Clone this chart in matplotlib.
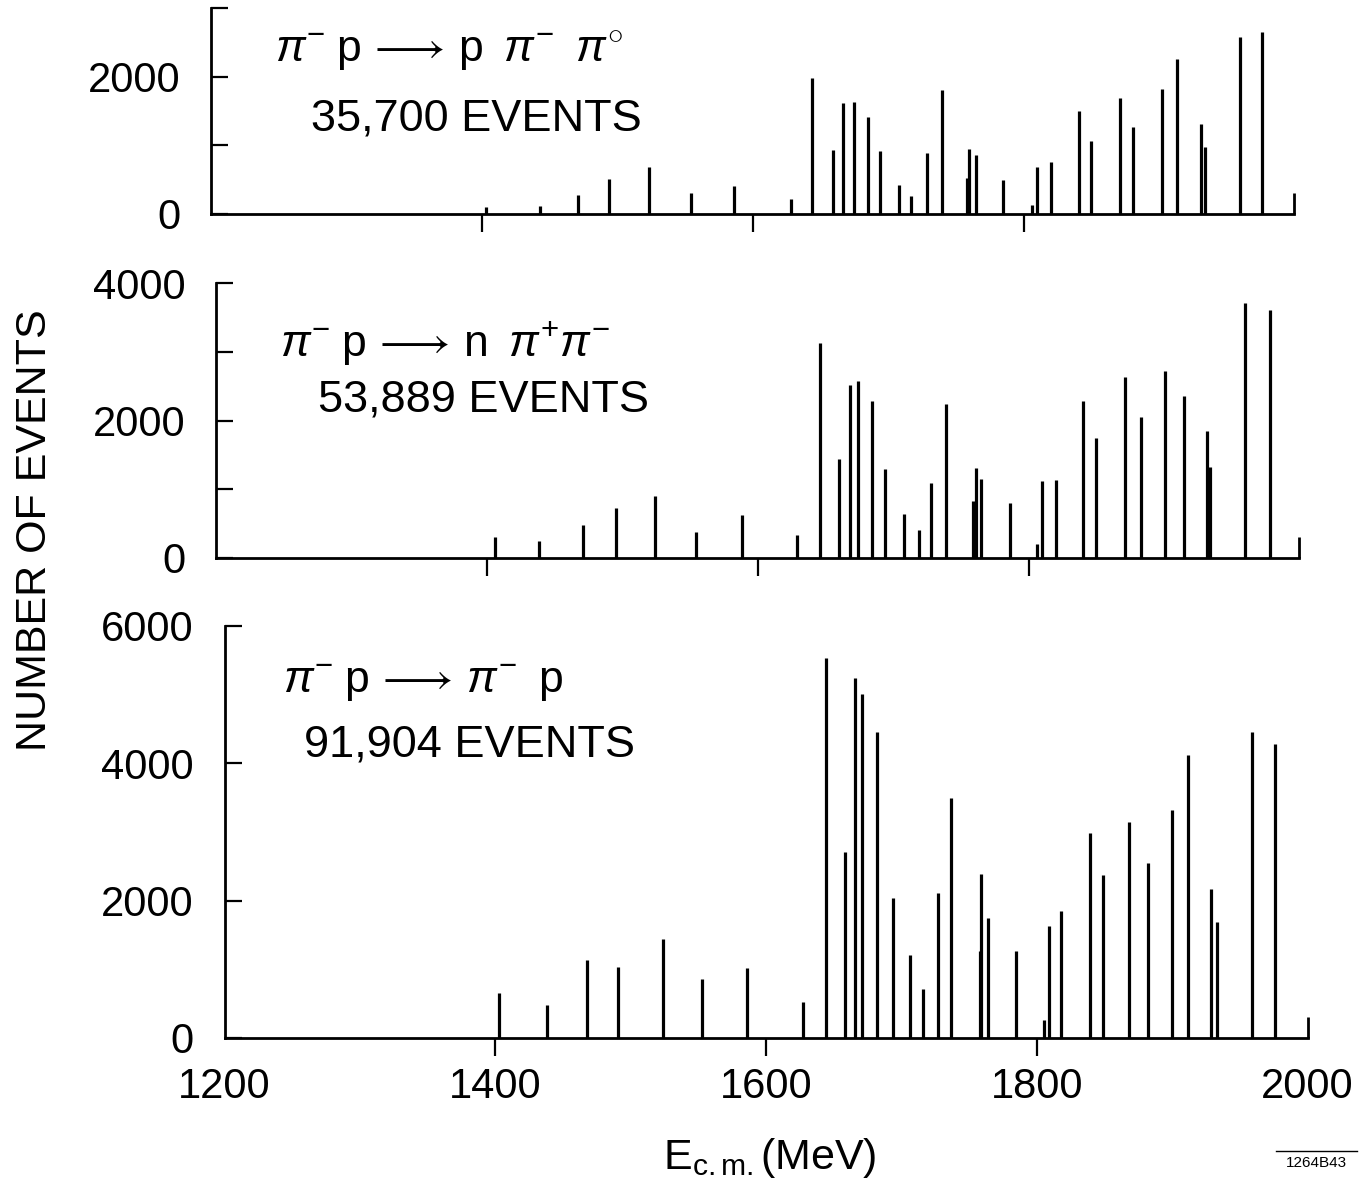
import matplotlib.pyplot as plt
from matplotlib.lines import Line2D

plt.rcParams['font.family'] = ['Liberation Sans', 'DejaVu Sans']
plt.rcParams['mathtext.fontset'] = 'custom'
plt.rcParams['mathtext.rm'] = 'Liberation Sans'
plt.rcParams['mathtext.it'] = 'Liberation Sans:italic'

# --- energies (MeV) and event counts ---
e_ppipi0 = [1403, 1443, 1471, 1494, 1523, 1554, 1586, 1628, 1644, 1659,
            1667, 1675, 1685, 1694, 1708, 1717, 1729, 1740, 1758, 1760,
            1765, 1785, 1806, 1810, 1820, 1841, 1850, 1871, 1881, 1902,
            1913, 1931, 1934, 1960, 1976]
n_ppipi0 = [100, 115, 275, 515, 690, 305, 405, 215, 1980, 925,
            1615, 1625, 1415, 915, 425, 265, 885, 1800, 525, 945,
            865, 490, 135, 680, 755, 1495, 1065, 1695, 1270, 1820,
            2260, 1310, 980, 2575, 2645]

e_npipi = [1406, 1438, 1471, 1495, 1524, 1554, 1588, 1629, 1646, 1660,
           1668, 1674, 1684, 1694, 1708, 1719, 1728, 1739, 1759, 1761,
           1765, 1786, 1806, 1810, 1820, 1840, 1850, 1871, 1883, 1901,
           1915, 1932, 1934, 1960, 1978]
n_npipi = [310, 250, 475, 730, 900, 375, 625, 340, 3125, 1435,
           2525, 2580, 2280, 1295, 635, 400, 1090, 2245, 835, 1305,
           1155, 800, 200, 1120, 1130, 2280, 1740, 2635, 2050, 2725,
           2365, 1845, 1320, 3705, 3610]

e_elastic = [1403, 1438, 1468, 1491, 1524, 1553, 1586, 1627, 1644, 1658,
             1666, 1671, 1682, 1694, 1706, 1716, 1727, 1737, 1758, 1759,
             1764, 1785, 1805, 1809, 1818, 1839, 1849, 1868, 1882, 1900,
             1912, 1929, 1933, 1959, 1976]
n_elastic = [650, 480, 1140, 1040, 1445, 860, 1025, 520, 5530, 2700,
             5235, 5005, 4455, 2040, 1210, 715, 2110, 3490, 1265, 2380,
             1740, 1260, 260, 1635, 1850, 2990, 2365, 3140, 2545, 3315,
             4115, 2175, 1685, 4450, 4285]

reactions = [r'$\pi^{-}\;\mathrm{p}\,\longrightarrow\,\mathrm{p}\;\;\pi^{-}\;\;\pi^{\circ}$',
             r'$\pi^{-}\;\mathrm{p}\,\longrightarrow\,\mathrm{n}\;\;\pi^{+}\pi^{-}$',
             r'$\pi^{-}\;\mathrm{p}\,\longrightarrow\,\pi^{-}\;\;\mathrm{p}$']
totals = ['35,700 EVENTS', '53,889 EVENTS', '91,904 EVENTS']
y_max = [3000, 4000, 6000]
y_ticks = [[0, 1000, 2000, 3000], [0, 1000, 2000, 3000, 4000], [0, 2000, 4000, 6000]]
y_ticklabels = [['0', '', '2000', ''], ['0', '', '2000', '', '4000'],
                ['0', '2000', '4000', '6000']]
x_ticks = [1200, 1400, 1600, 1800, 2000]
x_ticklabels = ['1200', '1400', '1600', '1800', '2000']

energies = [e_ppipi0, e_npipi, e_elastic]
counts = [n_ppipi0, n_npipi, n_elastic]

# axes boxes in figure fraction (left, bottom, width, height)
boxes = [[0.1549, 0.8205, 0.794, 0.1728],
         [0.1586, 0.5319, 0.794, 0.2305],
         [0.1646, 0.1292, 0.794, 0.3459]]
# text anchors (E, count) for reaction line and event total
reac_pos = [(1247, 2380), (1247, 3130), (1243, 5170)]
tot_pos = [(1274, 1380), (1275, 2300), (1259, 4270)]

fig = plt.figure(figsize=(13.64, 11.92), dpi=100)

for i in range(3):
    ax = fig.add_axes(boxes[i])
    ax.vlines(energies[i], 0, counts[i], color='black', linewidth=2.3)
    # little upright mark closing the axis at 2000 MeV
    ax.vlines(2000, 0, 300, color='black', linewidth=2, clip_on=False)
    ax.set_xlim(1200, 2000)
    ax.set_ylim(0, y_max[i])
    for s in ['top', 'right']:
        ax.spines[s].set_visible(False)
    for s in ['left', 'bottom']:
        ax.spines[s].set_linewidth(2)

    ax.set_yticks(y_ticks[i])
    ax.set_yticklabels(y_ticklabels[i])
    ax.tick_params(axis='y', direction='in', length=12, width=1.6, pad=22,
                   labelsize=30)

    ax.set_xticks(x_ticks)
    ax.set_xticklabels(x_ticklabels)
    ax.tick_params(axis='x', direction='out', length=13, width=1.6, pad=8,
                   labelsize=30, labelbottom=(i == 2))
    # no tick marks at the two ends of the energy axis
    for t in ax.xaxis.get_major_ticks():
        if t.get_loc() in (1200, 2000):
            t.tick1line.set_visible(False)

    ax.text(reac_pos[i][0], reac_pos[i][1], reactions[i], fontsize=32,
            va='center', ha='left')
    ax.text(tot_pos[i][0], tot_pos[i][1], totals[i], fontsize=32.5,
            va='center', ha='left')

fig.text(35 / 1364, 1 - 530 / 1192, 'NUMBER OF EVENTS', rotation=90,
         va='center', ha='center', fontsize=31)
fig.text(770 / 1364, 1 - 1158 / 1192, r'E$_{\mathrm{c.m.}}$(MeV)',
         va='center', ha='center', fontsize=31)

# figure number in the corner, with its overline
fig.text(1316 / 1364, 1 - 1163 / 1192, '1264B43', va='center', ha='center',
         fontsize=11)
fig.add_artist(Line2D([1276 / 1364, 1357 / 1364], [1 - 1151 / 1192, 1 - 1151 / 1192],
                      transform=fig.transFigure, color='black', linewidth=1))

fig.savefig('out.png', dpi=100)
